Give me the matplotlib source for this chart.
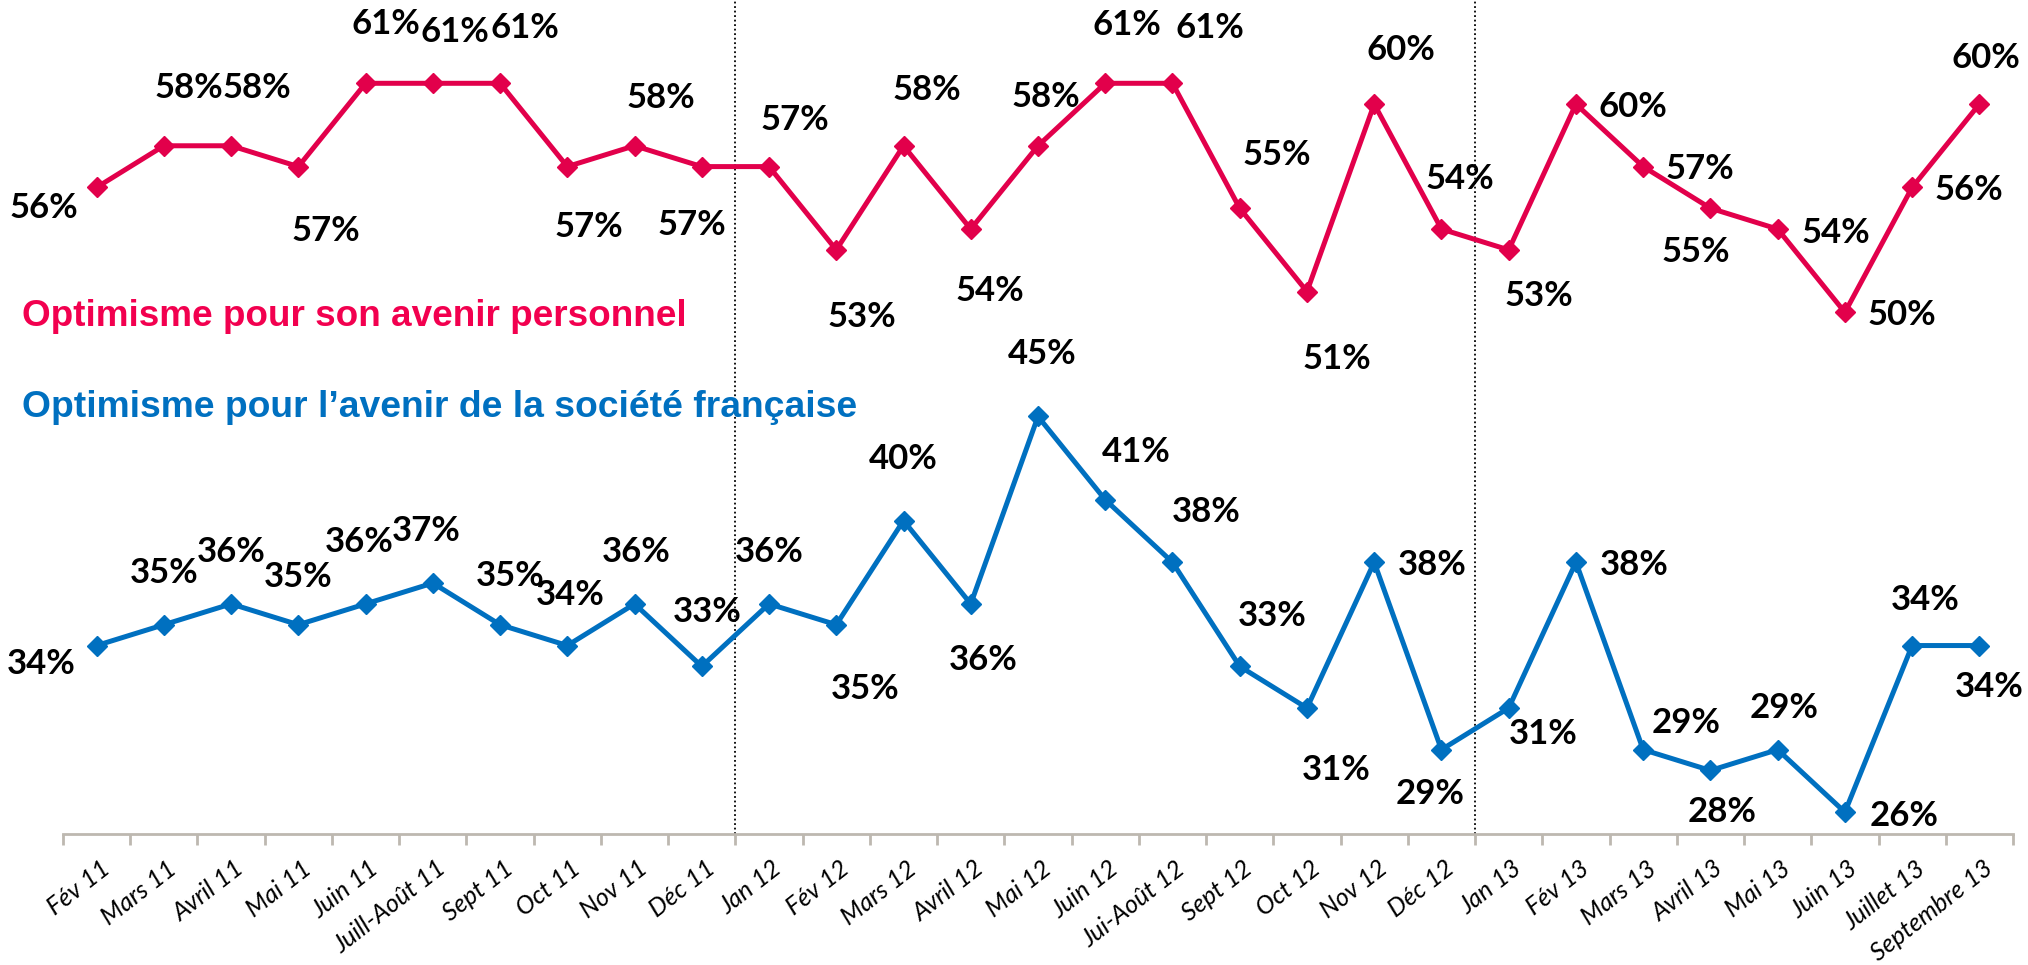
import numpy as np
import matplotlib
matplotlib.use("Agg")
import matplotlib.pyplot as plt
from matplotlib import transforms

months = ["Fév 11", "Mars 11", "Avril 11", "Mai 11", "Juin 11", "Juill-Août 11",
          "Sept 11", "Oct 11", "Nov 11", "Déc 11", "Jan 12", "Fév 12", "Mars 12",
          "Avril 12", "Mai 12", "Juin 12", "Jui-Août 12", "Sept 12", "Oct 12",
          "Nov 12", "Déc 12", "Jan 13", "Fév 13", "Mars 13", "Avril 13", "Mai 13",
          "Juin 13", "Juillet 13", "Septembre 13"]

perso = [56, 58, 58, 57, 61, 61, 61, 57, 58, 57, 57, 53, 58, 54, 58, 61, 61,
         55, 51, 60, 54, 53, 60, 57, 55, 54, 50, 56, 60]
societe = [34, 35, 36, 35, 36, 37, 35, 34, 36, 33, 36, 35, 40, 36, 45, 41, 38,
           33, 31, 38, 29, 31, 38, 29, 28, 29, 26, 34, 34]

# label offsets (px, in the 1568-wide preview, +y = down)
perso_off = [(-41, 16), (19, -45), (20, -45), (21, 50), (16, -46), (17, -40),
             (19, -43), (17, 47), (20, -37), (-8, 45), (20, -36), (20, 52),
             (18, -43), (15, 48), (6, -38), (17, -45), (29, -43), (29, -41),
             (23, 52), (21, -42), (14, -39), (23, 36), (44, 2), (44, 2),
             (-11, 34), (45, 3), (44, 2), (44, 2), (5, -36)]
societe_off = [(-43, 14), (0, -40), (0, -40), (0, -37), (-5, -48), (-5, -40),
               (8, -38), (2, -39), (1, -40), (4, -42), (0, -40), (22, 50),
               (0, -48), (10, 43), (3, -48), (24, -37), (26, -39), (25, -39),
               (23, 48), (45, 2), (-9, 34), (27, 20), (45, 2), (33, -21),
               (9, 32), (5, -32), (46, 3), (10, -35), (8, 32)]

S = 2028 / 1568
RED = "#E2004B"
BLUE = "#0070C0"

fig = plt.figure(figsize=(20.28, 9.65), dpi=100)
ax = fig.add_axes([63 / 2028, 131 / 965, 1950 / 2028, 834 / 965])
x = np.arange(len(months))

ax.plot(x, perso, color=RED, lw=3.6, marker="D", ms=10, zorder=3)
ax.plot(x, societe, color=BLUE, lw=3.6, marker="D", ms=10, zorder=3)

for i in range(len(x)):
    for vals, offs in ((perso, perso_off), (societe, societe_off)):
        dx, dy = offs[i]
        ax.annotate(f"{vals[i]}%", (i, vals[i]), xytext=(dx * S, -dy * S),
                    textcoords="offset pixels", ha="center", va="center",
                    fontsize=25, fontweight="bold", family=["Lato", "DejaVu Sans"],
                    color="black")

for xv in (9.5, 20.5):
    ax.axvline(xv, color="black", ls=(0, (1, 1.5)), lw=1.3, zorder=1)

ax.set_xlim(-0.5, len(months) - 0.5)
ax.set_ylim(24.95, 65)
for s in ("top", "right", "left"):
    ax.spines[s].set_visible(False)
ax.spines["bottom"].set_color("#BDB8B0")
ax.spines["bottom"].set_linewidth(2)
ax.set_yticks([])
ax.set_xticks(np.arange(-0.5, len(months)))
ax.set_xticklabels([])
ax.tick_params(axis="x", length=8, width=2, color="#BDB8B0", direction="out")

trans = transforms.blended_transform_factory(ax.transData, ax.transAxes)
for i, m in enumerate(months):
    ax.text(i + 0.045, -0.027, m, transform=trans, rotation=38, ha="right",
            va="top", rotation_mode="anchor", fontsize=18, style="italic",
            family=["Lato", "DejaVu Sans"], color="black")

fig.text(17 * S / 2028, 1 - 245 * S / 965, "Optimisme pour son avenir personnel",
         color="#F2004F", fontsize=26.6, fontweight="bold",
         family=["Liberation Sans", "DejaVu Sans"], va="center", ha="left")
fig.text(17 * S / 2028, 1 - 315 * S / 965,
         "Optimisme pour l\u2019avenir de la société française",
         color=BLUE, fontsize=26.8, fontweight="bold",
         family=["Liberation Sans", "DejaVu Sans"], va="center", ha="left")

fig.savefig("out.png", dpi=100)
